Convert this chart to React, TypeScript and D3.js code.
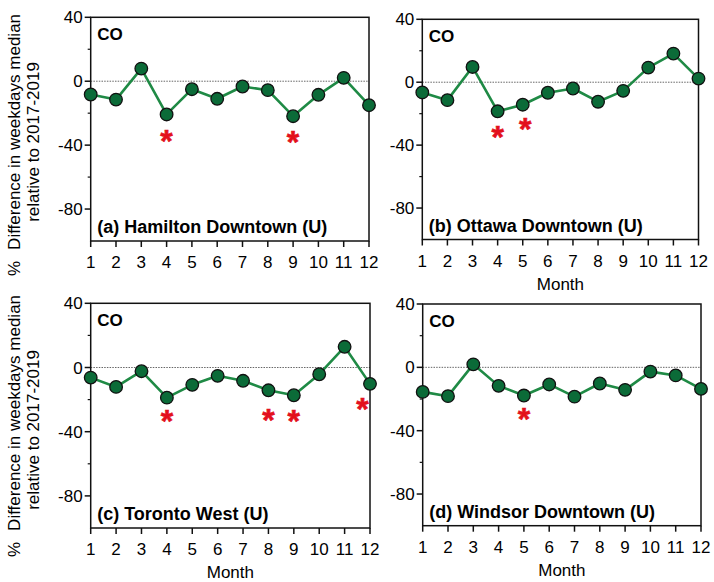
import React from 'react';
import * as d3 from 'd3';

const width = 714;
const height = 582;

const months = [1, 2, 3, 4, 5, 6, 7, 8, 9, 10, 11, 12];
const yMajorTicks = [40, 0, -40, -80];
const yMinorTicks = [20, -20, -60];

// % difference per month
const hamilton = [-8.3, -11.5, 7.9, -20.8, -5, -11, -3.3, -5.6, -21.9, -8.5, 2.1, -15];
const ottawa = [-6.5, -11.4, 9.7, -18.5, -14.3, -6.7, -4, -12.4, -5.5, 9.3, 18.2, 2.3];
const toronto = [-6.3, -12.1, -2.3, -18.8, -10.8, -5.2, -8.3, -14.2, -17.3, -4.2, 12.9, -10.2];
const windsor = [-15.5, -18.2, 1.9, -11.7, -17.8, -10.8, -18.5, -10.2, -14.2, -2.7, -5.1, -13.6];

// significance markers: [month, value where the asterisk sits]
const hamiltonStars = [[4, -32.5], [9, -33]];
const ottawaStars = [[4, -29.5], [5.1, -24.5]];
const torontoStars = [[4, -28.5], [8, -27.5], [9, -28.2], [11.7, -21]];
const windsorStars = [[5, -27.5]];

const panels = [
  { label: '(a) Hamilton Downtown (U)', values: hamilton, stars: hamiltonStars, x0: 90.7, x1: 369, yTop: 17.3, yBot: 241, month: false },
  { label: '(b) Ottawa Downtown (U)', values: ottawa, stars: ottawaStars, x0: 422.3, x1: 698.5, yTop: 19.3, yBot: 239.5, month: true },
  { label: '(c) Toronto West (U)', values: toronto, stars: torontoStars, x0: 90.7, x1: 370, yTop: 303.3, yBot: 528, month: true },
  { label: '(d) Windsor Downtown (U)', values: windsor, stars: windsorStars, x0: 422.7, x1: 701, yTop: 304, yBot: 525.7, month: true },
];

const font = 'Liberation Sans, Arial, Helvetica, sans-serif';
const lineColor = '#1f8a45';
const dotColor = '#0b6b38';
const starColor = '#e3101c';

const Panel = ({ p }) => {
  const x = d3.scaleLinear().domain([1, 12]).range([p.x0, p.x1]);
  const y = d3.scaleLinear().domain([-100, 40]).range([p.yBot, p.yTop]);
  const line = d3.line().x((d, i) => x(months[i])).y(d => y(d));

  return (
    <g>
      {/* zero reference */}
      <line x1={p.x0} x2={p.x1} y1={y(0)} y2={y(0)} stroke="#666" strokeWidth={1} strokeDasharray="1.5,1.2" />
      {/* frame */}
      <rect x={p.x0} y={p.yTop} width={p.x1 - p.x0} height={p.yBot - p.yTop} fill="none" stroke="#111" strokeWidth={1.5} />
      {yMajorTicks.map(t => (
        <g key={t}>
          <line x1={p.x0 - 6} x2={p.x0} y1={y(t)} y2={y(t)} stroke="#111" strokeWidth={1.5} />
          <text x={p.x0 - 8} y={y(t)} dy="0.36em" textAnchor="end" fontSize={17} fontFamily={font}>{t}</text>
        </g>
      ))}
      {yMinorTicks.map(t => (
        <line key={t} x1={p.x0 - 3} x2={p.x0} y1={y(t)} y2={y(t)} stroke="#111" strokeWidth={1.2} />
      ))}
      {months.map(m => (
        <g key={m}>
          <line x1={x(m)} x2={x(m)} y1={p.yBot} y2={p.yBot + 6} stroke="#111" strokeWidth={1.5} />
          <text x={x(m)} y={p.yBot + 27} textAnchor="middle" fontSize={17} fontFamily={font}>{m}</text>
        </g>
      ))}
      {p.month && (
        <text x={(p.x0 + p.x1) / 2} y={p.yBot + 50} textAnchor="middle" fontSize={17} fontFamily={font}>Month</text>
      )}
      <text x={p.x0 + 6.5} y={p.yTop + 23} fontSize={17} fontWeight="bold" fontFamily={font}>CO</text>
      <text x={p.x0 + 6.5} y={p.yBot - 8} fontSize={18} fontWeight="bold" fontFamily={font}>{p.label}</text>
      <path d={line(p.values)} fill="none" stroke={lineColor} strokeWidth={2.6} strokeLinejoin="round" />
      {p.values.map((v, i) => (
        <circle key={i} cx={x(months[i])} cy={y(v)} r={6.3} fill={dotColor} stroke="#111" strokeWidth={1.3} />
      ))}
      {p.stars.map(([m, v], i) => (
        <text key={i} x={x(m)} y={y(v)} dy="0.6em" textAnchor="middle" fontSize={32} fontWeight="bold" fill={starColor} stroke={starColor} strokeWidth={0.6} fontFamily={font}>*</text>
      ))}
    </g>
  );
};

const YLabel = ({ start, center }) => (
  <g fontFamily={font} fontSize={17}>
    <text transform={`translate(20,${start}) rotate(-90)`}>
      %<tspan dx={11}>Difference in weekdays median</tspan>
    </text>
    <text transform={`translate(39,${center}) rotate(-90)`} textAnchor="middle">relative to 2017-2019</text>
  </g>
);

export default function App() {
  return (
    <div style={{ position: 'absolute', left: 0, top: 0 }}>
      <svg width={width} height={height} style={{ display: 'block', background: '#fff' }}>
        <YLabel start={276} center={142} />
        <YLabel start={557} center={430} />
        {panels.map(p => <Panel key={p.label} p={p} />)}
      </svg>
    </div>
  );
}
